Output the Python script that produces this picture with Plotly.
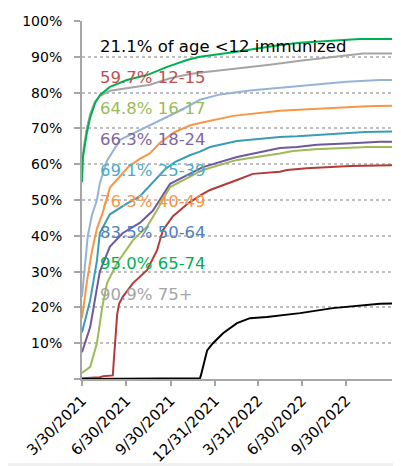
import plotly.graph_objects as go

# ---- data ----
groups = ["<12", "12-15", "16-17", "18-24", "25-39", "40-49", "50-64", "65-74", "75+"]
final_pct = [21.1, 59.7, 64.8, 66.3, 69.1, 76.3, 83.5, 95.0, 90.9]

dates_u12 = ["2021-03-30", "2021-06-07", "2021-06-08", "2021-11-30", "2021-12-02", "2021-12-15",
             "2021-12-27", "2022-01-17", "2022-02-15", "2022-03-14", "2022-04-18", "2022-06-26",
             "2022-09-02", "2022-11-12", "2022-12-09", "2023-01-03"]
pct_u12 = [0, 0, 0.2, 0.2, 1, 8, 10, 12.8, 15.6, 17, 17.3, 18.4, 19.8, 20.7, 21, 21.1]

dates_12_15 = ["2021-03-30", "2021-05-06", "2021-05-13", "2021-06-02", "2021-06-04", "2021-06-07",
               "2021-06-11", "2021-06-15", "2021-06-23", "2021-07-14", "2021-08-12", "2021-09-02",
               "2021-09-14", "2021-10-05", "2021-11-05", "2021-11-30", "2021-12-21", "2022-02-15",
               "2022-03-20", "2022-05-15", "2022-05-30", "2022-07-10", "2022-08-23", "2022-10-08",
               "2023-01-03"]
pct_12_15 = [0.2, 0.5, 0.8, 1.0, 5, 12, 18, 21, 23, 26.8, 30.4, 36, 41.6, 45.5, 49, 51.2, 52.8,
             55.6, 57.3, 57.9, 58.4, 58.9, 59.2, 59.5, 59.7]

dates_16_17 = ["2021-03-30", "2021-04-16", "2021-04-30", "2021-05-11", "2021-05-21", "2021-06-11",
               "2021-07-14", "2021-08-12", "2021-09-02", "2021-09-14", "2021-09-29", "2021-12-06",
               "2022-02-15", "2022-05-15", "2022-06-11", "2022-07-27", "2022-09-11", "2022-11-12",
               "2023-01-03"]
pct_16_17 = [1.7, 3.4, 10, 20, 26.8, 32.4, 38.8, 42.5, 47.2, 50, 53.6, 58.4, 61.2, 63, 63.7, 64.2,
             64.5, 64.8, 64.8]

dates_18_24 = ["2021-03-30", "2021-04-16", "2021-05-06", "2021-05-27", "2021-06-23", "2021-07-28",
               "2021-08-24", "2021-09-08", "2021-09-29", "2021-12-06", "2022-02-15", "2022-05-15",
               "2022-06-20", "2022-07-31", "2022-09-17", "2022-10-22", "2022-12-09", "2023-01-03"]
pct_18_24 = [7.5, 14.5, 30, 37, 40.8, 43.6, 47, 50, 54.5, 59.2, 62, 64.5, 64.8, 65.4, 65.6, 65.9,
             66.3, 66.3]

dates_25_39 = ["2021-03-30", "2021-04-16", "2021-04-30", "2021-05-06", "2021-05-27", "2021-07-01",
               "2021-07-28", "2021-08-29", "2021-09-18", "2021-10-09", "2021-11-09", "2021-11-30",
               "2021-12-21", "2022-02-15", "2022-05-15", "2022-06-20", "2022-09-02", "2022-10-14",
               "2022-11-08", "2023-01-03"]
pct_25_39 = [13, 22, 33, 40.8, 46, 49, 51, 55.5, 58.5, 60.6, 62.5, 63.5, 64.8, 66.5, 67.6, 67.8,
             68.4, 68.7, 69, 69.1]

dates_40_49 = ["2021-03-30", "2021-04-09", "2021-04-20", "2021-04-30", "2021-05-11", "2021-05-19",
               "2021-05-27", "2021-06-13", "2021-07-04", "2021-07-28", "2021-08-18", "2021-09-08",
               "2021-10-09", "2021-11-09", "2021-11-30", "2022-02-07", "2022-04-18", "2022-05-15",
               "2022-07-23", "2022-10-01", "2022-11-12", "2023-01-03"]
pct_40_49 = [17, 27, 36, 42, 46, 50, 53.5, 56, 59.2, 61.5, 63, 66, 69, 70.8, 71.5, 73.5, 74.6, 74.9,
             75.4, 76.0, 76.2, 76.3]

dates_50_64 = ["2021-03-30", "2021-04-05", "2021-04-11", "2021-04-20", "2021-04-30", "2021-05-06",
               "2021-05-21", "2021-06-17", "2021-07-28", "2021-09-08", "2021-10-20", "2021-11-30",
               "2022-01-11", "2022-03-14", "2022-05-15", "2022-07-23", "2022-10-01", "2022-12-09",
               "2023-01-03"]
pct_50_64 = [23, 31, 40, 46, 50, 54.7, 61, 66.8, 69.5, 72.3, 75, 78, 79.5, 80.6, 81.3, 82.1, 83,
             83.5, 83.5]

dates_65_74 = ["2021-03-30", "2021-04-01", "2021-04-09", "2021-04-16", "2021-04-26", "2021-05-06",
               "2021-05-27", "2021-07-01", "2021-08-12", "2021-09-23", "2021-11-03", "2021-11-30",
               "2022-02-07", "2022-04-18", "2022-05-15", "2022-06-26", "2022-09-17", "2022-10-28",
               "2023-01-03"]
pct_65_74 = [55, 62, 68.7, 73, 77, 79.3, 81.6, 83.5, 84.9, 87.2, 89.1, 90, 91.3, 92.7, 93.3, 93.9,
             94.7, 95, 95]

dates_75p = ["2021-03-30", "2021-04-03", "2021-04-09", "2021-04-16", "2021-04-26", "2021-05-06",
             "2021-05-27", "2021-07-08", "2021-08-18", "2021-09-29", "2021-11-09", "2021-12-21",
             "2022-02-21", "2022-04-24", "2022-06-26", "2022-08-27", "2022-10-08", "2022-11-04",
             "2023-01-03"]
pct_75p = [60, 65, 70, 74, 77.5, 79, 80.5, 81.3, 82.2, 84, 85.2, 85.9, 86.8, 87.8, 88.9, 89.9,
           90.5, 90.9, 90.9]

x_tick_dates = ["2021-03-30", "2021-06-30", "2021-09-30", "2021-12-31", "2022-03-31", "2022-06-30",
                "2022-09-30"]
x_tick_labels = ["3/30/2021", "6/30/2021", "9/30/2021", "12/31/2021", "3/31/2022", "6/30/2022",
                 "9/30/2022"]
y_tick_vals = [0, 0.1, 0.2, 0.3, 0.4, 0.5, 0.6, 0.7, 0.8, 0.9, 1.0]
y_tick_labels = ["", "10%", "20%", "30%", "40%", "50%", "60%", "70%", "80%", "90%", "100%"]

# ---- styles ----
series = [
    (dates_75p, pct_75p, "#A5A5A5"),
    (dates_65_74, pct_65_74, "#00B050"),
    (dates_50_64, pct_50_64, "#95B3D7"),
    (dates_40_49, pct_40_49, "#F79646"),
    (dates_25_39, pct_25_39, "#3A9DB8"),
    (dates_18_24, pct_18_24, "#71589C"),
    (dates_16_17, pct_16_17, "#9BBB59"),
    (dates_12_15, pct_12_15, "#B23B38"),
    (dates_u12, pct_u12, "#000000"),
]
label_colors = ["#000000", "#C0504D", "#9BBB59", "#8064A2", "#4BACC6", "#F79646", "#4F81BD",
                "#00B050", "#A5A5A5"]

fig = go.Figure()
for d, p, c in series:
    fig.add_trace(go.Scatter(x=d, y=[v / 100 for v in p], mode="lines",
                             line=dict(color=c, width=2), showlegend=False, hoverinfo="skip"))

FONT = "DejaVu Sans"
for k, (g, pct, col) in enumerate(zip(groups, final_pct, label_colors)):
    if k == 0:
        txt = f"{pct:.1f}% of age {g} immunized"
    else:
        txt = f"{pct:.1f}% {g}"
    fig.add_annotation(x=0.0516, y=0.929 - k * 0.0865, xref="paper", yref="paper",
                       xanchor="left", yanchor="middle", text=txt.replace("<", "&lt;"),
                       showarrow=False, font=dict(family=FONT, size=16.5, color=col))

# bottom light strip
fig.add_shape(type="rect", xref="paper", yref="paper", x0=-0.3, x1=1.1, y0=-0.2346, y1=-0.26,
              fillcolor="#F0F0F0", line=dict(width=0), layer="below")

# the page body adds an 8px offset, so the figure is sized/margined to compensate
fig.update_layout(
    width=393, height=458,
    margin=dict(l=74, r=9, t=13, b=87, autoexpand=False),
    paper_bgcolor="white", plot_bgcolor="white",
    font=dict(family=FONT, color="#000000"),
    xaxis=dict(
        type="date", range=["2021-03-30", "2023-01-03"], automargin=False,
        tickvals=x_tick_dates, ticktext=x_tick_labels, tickangle=-45,
        tickfont=dict(family=FONT, size=15, color="#000000"),
        showline=True, linecolor="#A6A6A6", linewidth=2,
        ticks="outside", ticklen=5, tickcolor="#A6A6A6", tickwidth=2,
        showgrid=False, zeroline=False,
    ),
    yaxis=dict(
        range=[0, 1.0], tickvals=y_tick_vals, ticktext=y_tick_labels, automargin=False,
        tickfont=dict(family=FONT, size=14, color="#000000"),
        showline=True, linecolor="#A6A6A6", linewidth=2,
        ticks="outside", ticklen=6, tickcolor="#A6A6A6", tickwidth=2,
        showgrid=True, gridcolor="#BFBFBF", griddash="dot", gridwidth=1.5,
        zeroline=False, ticklabelstandoff=9,
    ),
)

fig.write_html("out.html")
